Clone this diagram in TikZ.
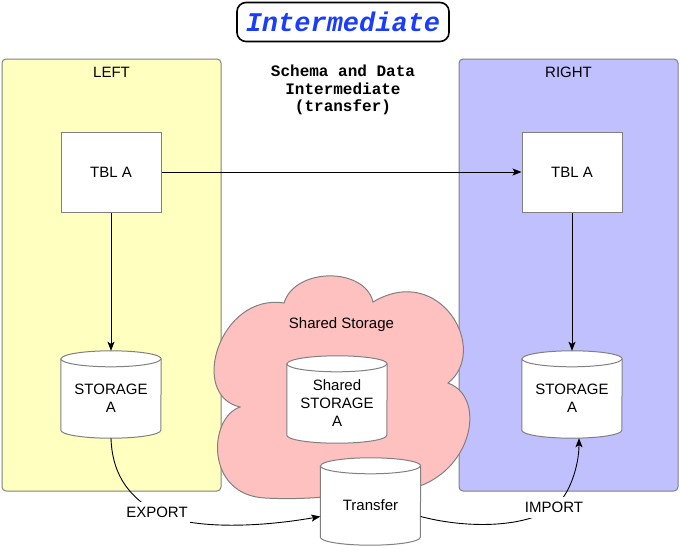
\documentclass[tikz,border=0pt]{standalone}
\usepackage{fontspec}
\setmainfont{Liberation Sans}
\setmonofont{Liberation Mono}
\usetikzlibrary{arrows.meta}
\definecolor{lefty}{HTML}{FFFFC0}
\definecolor{rightb}{HTML}{C0C0FF}
\definecolor{cloudp}{HTML}{FFC0C0}
\definecolor{edgegray}{HTML}{808080}
\definecolor{titleblue}{HTML}{1A3CFF}
\newcommand{\drawcyl}[1]{%
  \draw[cylline] ([yshift=-8pt]#1.north west) -- ([yshift=8pt]#1.south west)
    arc[start angle=180, end angle=360, x radius=50pt, y radius=8pt]
    -- ([yshift=-8pt]#1.north east)
    arc[start angle=0, end angle=180, x radius=50pt, y radius=8pt] -- cycle;
  \draw[cylline] ([yshift=-8pt]#1.north west)
    arc[start angle=180, end angle=360, x radius=50pt, y radius=8pt];}
\begin{document}
\begin{tikzpicture}[x=1pt,y=-1pt,
  container/.style={draw=edgegray, line width=1pt, rounded corners=4pt, inner sep=0pt},
  sans/.style={font=\fontsize{15}{18}\selectfont},
  tblbox/.style={draw=edgegray, line width=1pt, fill=white, minimum width=100pt, minimum height=80pt, inner sep=0pt, sans},
  cylbox/.style={minimum width=100pt, minimum height=87pt, inner sep=0pt},
  cylline/.style={draw=edgegray, fill=white, line width=1pt},
  cyltext/.style={sans, align=center, inner sep=0pt},
  conn/.style={line width=0.9pt, -{Stealth[length=9pt,width=7pt,inset=2pt]}},
  edgelabel/.style={sans, fill=white, inner xsep=2pt, inner ysep=5pt}]
\useasboundingbox (0,0) rectangle (680,546);
% containers
\node[container, fill=lefty, minimum width=219pt, minimum height=432pt] (left) at (111.5,275) {};
\node[container, fill=rightb, minimum width=219pt, minimum height=432pt] (right) at (568.5,275) {};
\node[sans] (leftlbl) at (111.5,72) {LEFT};
\node[sans] (rightlbl) at (568.5,72) {RIGHT};
% title
\node[draw, line width=1.6pt, rounded corners=9pt, minimum width=212pt, minimum height=39pt, inner sep=0pt,
  font={\fontsize{27}{30}\selectfont\ttfamily\bfseries\itshape}, text=titleblue] (title) at (343,22) {Intermediate};
\node[font={\fontsize{16}{17.25}\selectfont\ttfamily\bfseries}, align=center, inner sep=0pt] (schema) at (343,90)
  {Schema and Data\\Intermediate\\(transfer)};
% cloud
\draw[draw=edgegray, fill=cloudp, line width=1pt]
  (284,303) .. controls (220,293) and (188,395) .. (240,407)
  .. controls (208,418) and (205,495) .. (265,498)
  .. controls (300,500) and (340,497) .. (370,490)
  .. controls (465,505) and (495,400) .. (448,383)
  .. controls (490,350) and (440,262) .. (373,302)
  .. controls (365,267) and (295,267) .. (284,303) -- cycle;
\node[sans] (cloudlbl) at (341.5,325) {Shared Storage};
% tables
\node[tblbox] (ltbl) at (111,172) {TBL A};
\node[tblbox] (rtbl) at (572,172) {TBL A};
% cylinders
\node[cylbox] (lsa) at (111,394.5) {};
\drawcyl{lsa}
\node[cyltext] (lsat) at ([yshift=-4pt]lsa.center) {STORAGE\\A};
\node[cylbox] (rsa) at (572,394.5) {};
\drawcyl{rsa}
\node[cyltext] (rsat) at ([yshift=-4pt]rsa.center) {STORAGE\\A};
\node[cylbox] (ssa) at (337,399.5) {};
\drawcyl{ssa}
\node[cyltext] (ssat) at ([yshift=-4pt]ssa.center) {Shared\\STORAGE\\A};
\node[cylbox] (tr) at (370.5,501.5) {};
\drawcyl{tr}
\node[cyltext] (trt) at ([yshift=-4pt]tr.center) {Transfer};
% connectors
\draw[conn] (ltbl) -- (rtbl);
\draw[conn] (ltbl) -- (lsa);
\draw[conn] (rtbl) -- (rsa);
\draw[conn] (lsa.south) .. controls (112,470) and (125,495) .. (157,512.5) node[edgelabel] (exp) {EXPORT}
  .. controls (189,529) and (255,528) .. ([yshift=-15pt]tr.west);
\draw[conn] ([yshift=-15pt]tr.east) .. controls (460,527) and (520,530) .. (554,507.5) node[edgelabel] (imp) {IMPORT}
  .. controls (570,495) and (579,465) .. ([xshift=7pt]rsa.south);
\end{tikzpicture}
\end{document}
